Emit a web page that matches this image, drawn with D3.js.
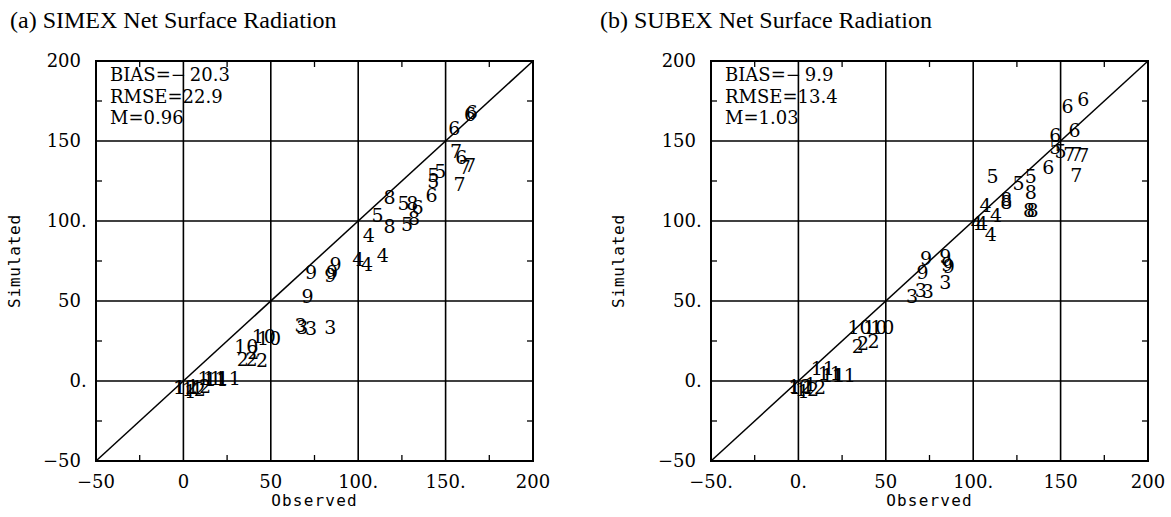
<!DOCTYPE html>
<html>
<head>
<meta charset="utf-8">
<script src="https://cdn.jsdelivr.net/npm/d3@7"></script>
<style>
  html, body { margin: 0; padding: 0; background: #fff; }
  svg { display: block; }
</style>
</head>
<body>
<svg id="chart" width="1171" height="517"></svg>
<script>
// ---- data: monthly net surface radiation (W m-2), simulated vs observed ----
// month number plotted as the marker label
const simexMonth = [6, 6, 6, 6, 6, 6,
  7, 7, 7, 7,
  5, 5, 5, 5, 5, 5,
  8, 8, 8, 8,
  4, 4, 4, 4,
  9, 9, 9, 9, 9,
  3, 3, 3, 3,
  10, 10, 10,
  2, 2, 2, 2,
  11, 11, 11, 11,
  12, 12, 12,
  1, 1, 1];
const simexObs = [165, 164, 155, 159, 142, 134,
  156, 161, 164, 158,
  143, 147, 143, 126, 111, 128,
  118, 131, 118, 132,
  106, 100, 105, 114,
  73, 84, 85, 87, 71,
  67, 68, 73, 84,
  36, 46, 49,
  34, 39, 45, 40,
  15, 18, 19, 26,
  1, 6, 9,
  -2, 4, 8];
const simexSim = [168, 167, 158, 140, 116, 109,
  144, 134, 135, 123,
  129, 131, 125, 111, 104, 98,
  115, 111, 97, 102,
  91, 76, 73, 79,
  68, 66, 68, 73, 53,
  35, 34, 33, 34,
  22, 28, 27,
  14, 14, 13, 18,
  2, 2, 1, 2,
  -4, -5, -3,
  -4, -6, -4];

const subexMonth = [6, 6, 6, 6, 6,
  7, 7, 7, 7,
  5, 5, 5, 5, 5,
  8, 8, 8, 8, 8,
  4, 4, 4, 4, 4,
  9, 9, 9, 9, 9,
  3, 3, 3, 3,
  10, 10, 10,
  2, 2, 2,
  11, 11, 11, 11,
  12, 12, 12,
  1, 1, 1];
const subexObs = [154, 163, 158, 147, 143,
  155, 159, 163, 159,
  147, 150, 133, 111, 126,
  133, 119, 119, 132, 134,
  107, 113, 102, 105, 110,
  73, 71, 84, 85, 86,
  84, 65, 70, 74,
  35, 44, 48,
  34, 37, 43,
  14, 18, 20, 26,
  1, 5, 9,
  -2, 3, 7];
const subexSim = [172, 176, 157, 154, 134,
  142, 142, 141, 129,
  146, 144, 128, 128, 124,
  118, 114, 112, 107, 107,
  110, 104, 99, 99, 92,
  77, 68, 78, 73, 72,
  62, 53, 57, 56,
  34, 34, 34,
  22, 24, 25,
  8, 5, 4, 4,
  -3, -5, -4,
  -4, -6, -2];

// axis tick values and their printed labels
const tickValues = [-50, 0, 50, 100, 150, 200];
const minorTickValues = [-25, 25, 75, 125, 175];
const xTickLabelsA = ["\u221250", "0", "50", "100.", "150.", "200"];
const yTickLabelsA = ["\u221250", "0.", "50", "100.", "150", "200"];
const xTickLabelsB = ["\u221250.", "0.", "50", "100.", "150", "200"];
const yTickLabelsB = ["\u221250", "0.", "50.", "100.", "150", "200"];

// summary statistics printed in the upper-left corner: [name, sign, magnitude]
const biasA = ["BIAS=", "\u2212", "20.3"];
const biasB = ["BIAS=", "\u2212", "9.9"];
const statsA = ["RMSE=22.9", "M=0.96"];
const statsB = ["RMSE=13.4", "M=1.03"];

const titles = ["(a) SIMEX Net Surface Radiation", "(b) SUBEX Net Surface Radiation"];

// ---- drawing ----
const svg = d3.select("#chart");
const domain = [-50, 200];
const frameW = 437, frameH = 400, frameTop = 61;

const panels = [
  { left: 96, titleX: 10, simX: 20, title: titles[0], month: simexMonth, obs: simexObs, sim: simexSim,
    xLabels: xTickLabelsA, yLabels: yTickLabelsA, bias: biasA, stats: statsA },
  { left: 711, titleX: 600, simX: 624, title: titles[1], month: subexMonth, obs: subexObs, sim: subexSim,
    xLabels: xTickLabelsB, yLabels: yTickLabelsB, bias: biasB, stats: statsB }
];

const titleFont = "'Liberation Serif', 'DejaVu Serif', serif";
const serif = "'DejaVu Serif', 'Liberation Serif', serif";
const mono = "'DejaVu Sans Mono', 'Liberation Mono', monospace";
const labelSize = 18;

panels.forEach(p => {
  const x = d3.scaleLinear().domain(domain).range([p.left, p.left + frameW]);
  const y = d3.scaleLinear().domain(domain).range([frameTop + frameH, frameTop]);
  const g = svg.append("g");

  // title
  g.append("text")
    .attr("x", p.titleX).attr("y", 28)
    .attr("font-family", titleFont).attr("font-size", 24)
    .text(p.title);

  // grid lines at major ticks
  g.append("g").selectAll("line").data(tickValues.slice(1, -1)).join("line")
    .attr("x1", d => x(d)).attr("x2", d => x(d))
    .attr("y1", y(domain[0])).attr("y2", y(domain[1]))
    .attr("stroke", "#000").attr("stroke-width", 1.6);
  g.append("g").selectAll("line").data(tickValues.slice(1, -1)).join("line")
    .attr("y1", d => y(d)).attr("y2", d => y(d))
    .attr("x1", x(domain[0])).attr("x2", x(domain[1]))
    .attr("stroke", "#000").attr("stroke-width", 1.6);

  // minor ticks pointing inward on all four sides
  const tl = 6;
  const minor = g.append("g").attr("stroke", "#000").attr("stroke-width", 1.3);
  minorTickValues.forEach(v => {
    minor.append("line").attr("x1", x(v)).attr("x2", x(v)).attr("y1", y(domain[0])).attr("y2", y(domain[0]) - tl);
    minor.append("line").attr("x1", x(v)).attr("x2", x(v)).attr("y1", y(domain[1])).attr("y2", y(domain[1]) + tl);
    minor.append("line").attr("y1", y(v)).attr("y2", y(v)).attr("x1", x(domain[0])).attr("x2", x(domain[0]) + tl);
    minor.append("line").attr("y1", y(v)).attr("y2", y(v)).attr("x1", x(domain[1])).attr("x2", x(domain[1]) - tl);
  });

  // frame
  g.append("rect")
    .attr("x", x(domain[0])).attr("y", y(domain[1]))
    .attr("width", x(domain[1]) - x(domain[0])).attr("height", y(domain[0]) - y(domain[1]))
    .attr("fill", "none").attr("stroke", "#000").attr("stroke-width", 2);

  // 1:1 line
  g.append("line")
    .attr("x1", x(domain[0])).attr("y1", y(domain[0]))
    .attr("x2", x(domain[1])).attr("y2", y(domain[1]))
    .attr("stroke", "#000").attr("stroke-width", 1.5);

  // tick labels
  g.append("g").selectAll("text").data(tickValues).join("text")
    .attr("x", d => x(d)).attr("y", y(domain[0]) + 27)
    .attr("text-anchor", "middle")
    .attr("font-family", serif).attr("font-size", labelSize)
    .text((d, i) => p.xLabels[i]);
  // y labels: digits right-aligned, trailing period hangs past the column
  const dotW = 0.318 * labelSize;
  g.append("g").selectAll("text").data(tickValues).join("text")
    .attr("x", (d, i) => x(domain[0]) - 15 + (p.yLabels[i].endsWith(".") ? dotW : 0))
    .attr("y", d => y(d) + 6)
    .attr("text-anchor", "end")
    .attr("font-family", serif).attr("font-size", labelSize)
    .text((d, i) => p.yLabels[i]);

  // axis titles
  g.append("text")
    .attr("x", (x(domain[0]) + x(domain[1])) / 2).attr("y", 506)
    .attr("text-anchor", "middle")
    .attr("font-family", mono).attr("font-size", 16).attr("letter-spacing", 1.2)
    .text("Observed");
  g.append("text")
    .attr("transform", `translate(${p.simX},${(y(domain[0]) + y(domain[1])) / 2}) rotate(-90)`)
    .attr("text-anchor", "middle")
    .attr("font-family", mono).attr("font-size", 16).attr("letter-spacing", 0.8)
    .text("Simulated");

  // statistics text
  const sx = x(domain[0]) + 14, sy0 = y(domain[1]) + 20, lh = 21.5;
  const bias = g.append("text")
    .attr("x", sx).attr("y", sy0)
    .attr("font-family", serif).attr("font-size", 18);
  bias.append("tspan").text(p.bias[0]);
  bias.append("tspan").text(p.bias[1]);
  bias.append("tspan").attr("dx", 4).text(p.bias[2]);
  g.append("g").selectAll("text").data(p.stats).join("text")
    .attr("x", sx).attr("y", (d, i) => sy0 + (i + 1) * lh)
    .attr("font-family", serif).attr("font-size", 18)
    .text(d => d);

  // month markers
  const pts = p.month.map((m, i) => ({ m, o: p.obs[i], s: p.sim[i] }));
  g.append("g").selectAll("text").data(pts).join("text")
    .attr("x", d => x(d.o)).attr("y", d => y(d.s))
    .attr("text-anchor", "middle").attr("dominant-baseline", "central")
    .attr("font-family", serif).attr("font-size", 19)
    .text(d => d.m);
});
</script>
</body>
</html>
